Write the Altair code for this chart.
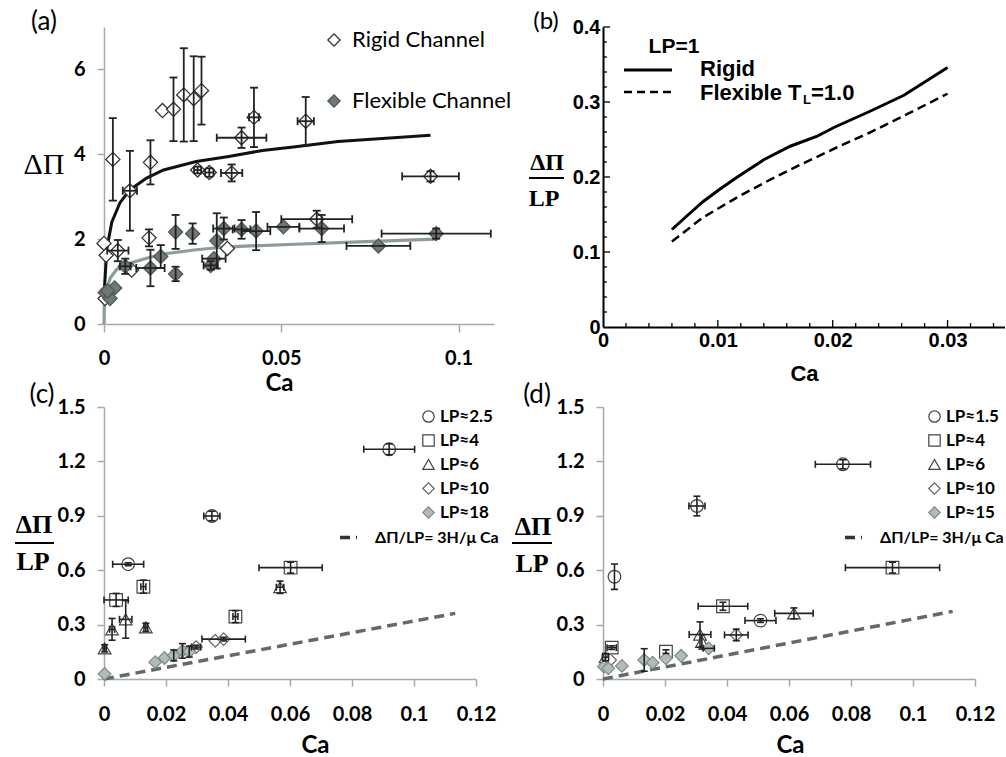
import altair as alt
import pandas as pd

FONT = "Lato"
SERIF = "Liberation Serif"
ARIAL = "Liberation Sans"
AXG = "#a3acab"

# ---------------- panel (a) data ----------------
a_rigid_ca = [0.0025, 0.0073, 0.0131, 0.0165, 0.0196, 0.0225, 0.0253, 0.0275, 0.0264, 0.0297, 0.0360, 0.0388,
              0.0423, 0.0569, 0.0921, 0.0600, 0.0348, 0.0127, 0.0039, 0.0078, 0.0000, 0.0006, 0.0003]
a_rigid_v = [3.88, 3.14, 3.81, 5.03, 5.06, 5.40, 5.31, 5.50, 3.63, 3.57, 3.56, 4.39,
             4.87, 4.78, 3.48, 2.47, 1.78, 2.03, 1.73, 1.27, 1.90, 1.62, 0.60]
a_rigid_dca = [0, 0.0020, 0, 0, 0, 0, 0, 0, 0.0010, 0.0012, 0.0030, 0.0070,
               0.0014, 0.0023, 0.0080, 0.0100, 0, 0, 0.0030, 0, 0, 0, 0]
a_rigid_dv = [0.97, 0.94, 0.52, 0, 0.75, 1.10, 1.00, 0.80, 0.08, 0.10, 0.20, 0.24,
              0.70, 0.57, 0.12, 0.20, 0, 0.20, 0.25, 0, 0, 0, 0]

a_flex_ca = [0.0003, 0.0017, 0.0030, 0.0010, 0.0060, 0.0131, 0.0160, 0.0202, 0.0202, 0.0250, 0.0301, 0.0310,
             0.0318, 0.0338, 0.0388, 0.0429, 0.0506, 0.0614, 0.0774, 0.0937]
a_flex_v = [0.74, 0.60, 0.85, 0.78, 1.36, 1.32, 1.59, 2.17, 1.18, 2.13, 1.38, 1.54,
            1.96, 2.25, 2.23, 2.19, 2.29, 2.25, 1.84, 2.13]
a_flex_dca = [0, 0, 0, 0, 0.0015, 0.0040, 0, 0, 0, 0, 0.0020, 0.0033,
              0, 0.0030, 0.0025, 0.0040, 0.0045, 0.0063, 0.0090, 0.0154]
a_flex_dv = [0, 0, 0, 0, 0.18, 0.43, 0.27, 0.40, 0.17, 0.24, 0.10, 0,
             0.65, 0.26, 0.22, 0.45, 0, 0.32, 0, 0.12]

a_rcurve_ca = [0.0001, 0.00036, 0.00084, 0.0022, 0.0045, 0.0073, 0.012, 0.0168, 0.026, 0.0352, 0.0447, 0.054, 0.066, 0.0921]
a_rcurve_v = [0.80, 1.17, 1.79, 2.40, 2.86, 3.16, 3.44, 3.63, 3.83, 3.95, 4.09, 4.18, 4.30, 4.45]
a_fcurve_ca = [0.0, 0.0001, 0.0006, 0.0018, 0.0036, 0.0073, 0.012, 0.0167, 0.026, 0.035, 0.054, 0.070, 0.0935]
a_fcurve_v = [0.0, 0.50, 0.80, 1.09, 1.29, 1.43, 1.55, 1.65, 1.75, 1.82, 1.88, 1.93, 2.00]
a_names = ["Rigid Channel", "Flexible Channel"]

# ---------------- panel (b) data ----------------
b_rigid_ca = [0.0060, 0.0073, 0.0087, 0.0101, 0.0117, 0.0140, 0.0163, 0.0186, 0.0201, 0.0233, 0.0262, 0.0300]
b_rigid_v = [0.130, 0.148, 0.167, 0.183, 0.200, 0.223, 0.241, 0.254, 0.266, 0.288, 0.309, 0.346]
b_flex_ca = [0.0060, 0.0087, 0.0117, 0.0145, 0.0174, 0.0203, 0.0232, 0.0261, 0.0300]
b_flex_v = [0.114, 0.146, 0.173, 0.196, 0.218, 0.239, 0.259, 0.281, 0.311]
b_xticks_major = [0.01, 0.02, 0.03]
b_xticks_minor = [0.002, 0.004, 0.006, 0.008, 0.012, 0.014, 0.016, 0.018, 0.022, 0.024, 0.026, 0.028, 0.032, 0.034]
b_yticks_major = [0.1, 0.2, 0.3, 0.4]
b_yticks_minor = [0.02, 0.04, 0.06, 0.08, 0.12, 0.14, 0.16, 0.18, 0.22, 0.24, 0.26, 0.28, 0.32, 0.34, 0.36, 0.38]

# ---------------- panel (c) data ----------------
c_names = ["LP≈2.5", "LP≈4", "LP≈6", "LP≈10", "LP≈18"]
c_s1_ca = [0.0920, 0.0348, 0.0078]
c_s1_v = [1.267, 0.899, 0.633]
c_s1_dca = [0.0082, 0.0026, 0.0050]
c_s1_dv = [0.030, 0.026, 0.008]
c_s2_ca = [0.0602, 0.0127, 0.0039, 0.0424]
c_s2_v = [0.614, 0.509, 0.436, 0.344]
c_s2_dca = [0.0102, 0.0008, 0.0039, 0.0008]
c_s2_dv = [0.030, 0.036, 0.036, 0.033]
c_s3_ca = [0.0568, 0.0070, 0.0135, 0.0026, 0.0002]
c_s3_v = [0.506, 0.329, 0.285, 0.274, 0.169]
c_s3_dca = [0.0012, 0.0020, 0.0006, 0.0008, 0.0005]
c_s3_dv = [0.034, 0.104, 0.023, 0.060, 0.020]
c_s4_ca = [0.0297, 0.0359, 0.0386]
c_s4_v = [0.176, 0.211, 0.220]
c_s4_dca = [0.0015, 0, 0.0070]
c_s4_dv = [0.010, 0, 0.010]
c_s5_ca = [0.0002, 0.0165, 0.0195, 0.0225, 0.0253, 0.0275]
c_s5_v = [0.028, 0.093, 0.116, 0.130, 0.155, 0.151]
c_s5_dca = [0, 0, 0, 0, 0, 0]
c_s5_dv = [0, 0, 0, 0.030, 0.040, 0.030]
c_line_ca = [0.0, 0.1133]
c_line_v = [0.0, 0.362]

# ---------------- panel (d) data ----------------
d_names = ["LP≈1.5", "LP≈4", "LP≈6", "LP≈10", "LP≈15"]
d_s1_ca = [0.0774, 0.0303, 0.0037, 0.0508]
d_s1_v = [1.184, 0.954, 0.564, 0.322]
d_s1_dca = [0.0089, 0.0026, 0, 0.0050]
d_s1_dv = [0.025, 0.054, 0.070, 0.010]
d_s2_ca = [0.0934, 0.0387, 0.0028, 0.0203]
d_s2_v = [0.614, 0.401, 0.173, 0.151]
d_s2_dca = [0.0152, 0.0080, 0.0015, 0]
d_s2_dv = [0.030, 0.022, 0.010, 0.010]
d_s3_ca = [0.0616, 0.0313, 0.0319, 0.0008]
d_s3_v = [0.362, 0.245, 0.205, 0.120]
d_s3_dca = [0.0062, 0.0035, 0, 0.0010]
d_s3_dv = [0.030, 0.070, 0.040, 0.020]
d_s4_ca = [0.0430, 0.0023]
d_s4_v = [0.243, 0.105]
d_s4_dca = [0.0038, 0]
d_s4_dv = [0.032, 0]
d_s5_ca = [0.0003, 0.0017, 0.0061, 0.0133, 0.0160, 0.0203, 0.0252, 0.0341]
d_s5_v = [0.068, 0.059, 0.072, 0.105, 0.090, 0.114, 0.128, 0.169]
d_s5_dca = [0, 0, 0, 0, 0, 0, 0, 0.0018]
d_s5_dv = [0, 0, 0, 0.062, 0, 0, 0, 0]
d_line_ca = [0.0, 0.1128]
d_line_v = [0.0, 0.373]

LINE_LABEL = "ΔΠ/LP= 3H/μ Ca"

one = pd.DataFrame({"k": [0]})


def make_df(name, ca, v, dca, dv):
    df = pd.DataFrame({"series": name, "ca": ca, "v": v, "dca": dca, "dv": dv})
    df["vlo"] = df["v"] - df["dv"]
    df["vhi"] = df["v"] + df["dv"]
    df["clo"] = df["ca"] - df["dca"]
    df["chi"] = df["ca"] + df["dca"]
    return df


def txt(s, x, y, size, font=FONT, weight="normal", align="center", baseline="middle"):
    return alt.Chart(one).mark_text(text=s, font=font, fontSize=size, fontWeight=weight, align=align,
                                    baseline=baseline, color="black").encode(x=alt.value(x), y=alt.value(y))


def hrule(x1, x2, y, w=2.0, color="black", dash=None):
    kw = dict(color=color, strokeWidth=w)
    if dash:
        kw["strokeDash"] = dash
    return alt.Chart(one).mark_rule(**kw).encode(x=alt.value(x1), x2=alt.value(x2), y=alt.value(y))


def err_layers(df, X, Y, color, w, cap):
    out = []
    vd = df[df["dv"] > 0]
    hd = df[df["dca"] > 0]
    if len(vd):
        b = alt.Chart(vd)
        out.append(b.mark_rule(color=color, strokeWidth=w).encode(x=X("ca"), y=Y("vlo"), y2="vhi:Q"))
        out.append(b.mark_tick(color=color, thickness=w, size=cap, orient="horizontal", opacity=1).encode(x=X("ca"), y=Y("vlo")))
        out.append(b.mark_tick(color=color, thickness=w, size=cap, orient="horizontal", opacity=1).encode(x=X("ca"), y=Y("vhi")))
    if len(hd):
        b = alt.Chart(hd)
        out.append(b.mark_rule(color=color, strokeWidth=w).encode(x=X("clo"), x2="chi:Q", y=Y("v")))
        out.append(b.mark_tick(color=color, thickness=w, size=cap, orient="vertical", opacity=1).encode(x=X("clo"), y=Y("v")))
        out.append(b.mark_tick(color=color, thickness=w, size=cap, orient="vertical", opacity=1).encode(x=X("chi"), y=Y("v")))
    return out


def grey_axis(values, size, pad, title=None, **kw):
    args = dict(values=values, format="~g", grid=False, domainColor=AXG, domainWidth=1.5, tickColor=AXG,
                tickWidth=1.5, tickSize=7, labelFont=FONT, labelFontSize=size, labelFontWeight="bold",
                labelColor="black", labelPadding=pad, labelFlush=False, labelOverlap=False)
    args.update(kw)
    if title is None:
        return alt.Axis(title=None, **args)
    return alt.Axis(title=title, **args)


# ================= panel (a) =================   plot origin at page (102, 27)
A_W, A_H = 390, 297
a_xs = alt.Scale(domain=[0, 0.11], nice=False)
a_ys = alt.Scale(domain=[0, 7], nice=False)
a_xaxis = grey_axis([0, 0.05, 0.1], 20, 16, title="Ca", tickSize=8, titleFont=FONT, titleFontSize=24,
                    titleFontWeight="bold", titleColor="black", titleX=175, titleY=59, titleBaseline="middle")
a_yaxis = grey_axis([0, 2, 4, 6], 20, 12)
aX = lambda f: alt.X(f + ":Q", scale=a_xs, axis=a_xaxis)
aY = lambda f: alt.Y(f + ":Q", scale=a_ys, axis=a_yaxis)

a_df = pd.concat([make_df(a_names[0], a_rigid_ca, a_rigid_v, a_rigid_dca, a_rigid_dv),
                  make_df(a_names[1], a_flex_ca, a_flex_v, a_flex_dca, a_flex_dv)])
a_leg = alt.Legend(orient="none", legendX=219, legendY=2, title=None, labelFont=FONT, labelFontSize=22,
                   labelColor="black", symbolSize=150, symbolStrokeWidth=1.3, rowPadding=39, labelOffset=7,
                   padding=0)
a_pts = alt.Chart(a_df).mark_point(filled=True, opacity=1, size=200, strokeWidth=1.3).encode(
    x=aX("ca"), y=aY("v"),
    shape=alt.Shape("series:N", scale=alt.Scale(domain=a_names, range=["diamond", "diamond"]), legend=a_leg),
    fill=alt.Fill("series:N", scale=alt.Scale(domain=a_names, range=["white", "#6f7777"]), legend=a_leg),
    stroke=alt.Stroke("series:N", scale=alt.Scale(domain=a_names, range=["#333333", "#4f5757"]), legend=a_leg),
)
a_rc = alt.Chart(pd.DataFrame({"ca": a_rcurve_ca, "v": a_rcurve_v})).mark_line(
    color="#111111", strokeWidth=3).encode(x=aX("ca"), y=aY("v"))
a_fc = alt.Chart(pd.DataFrame({"ca": a_fcurve_ca, "v": a_fcurve_v})).mark_line(
    color="#8d9b99", strokeWidth=3.2).encode(x=aX("ca"), y=aY("v"))
panel_a = alt.layer(
    a_fc, a_rc, a_pts, *err_layers(a_df, aX, aY, "#222222", 1.8, 8),
    txt("(a)", -60, -5, 26),
    txt("ΔΠ", -60, 138, 30, font=SERIF),
).properties(width=A_W, height=A_H)

# ================= panel (b) =================   plot origin at page (601, 27)
B_W, B_H = 402, 300
b_xs = alt.Scale(domain=[0, 0.035], nice=False)
b_ys = alt.Scale(domain=[0, 0.4], nice=False)
b_common = dict(format="~g", grid=False, ticks=False, tickSize=0, domainColor="black", domainWidth=2,
                labelFont=ARIAL, labelFontSize=20, labelFontWeight="bold", labelColor="black",
                labelPadding=3, labelFlush=False, labelOverlap=False)
b_xaxis = alt.Axis(values=[0, 0.01, 0.02, 0.03], title="Ca", titleFont=ARIAL, titleFontSize=22,
                   titleFontWeight="bold", titleColor="black", titleX=201, titleY=46, titleBaseline="middle",
                   **b_common)
b_yaxis = alt.Axis(values=[0, 0.1, 0.2, 0.3, 0.4], title=None, **b_common)
bX = lambda f: alt.X(f + ":Q", scale=b_xs, axis=b_xaxis)
bY = lambda f: alt.Y(f + ":Q", scale=b_ys, axis=b_yaxis)

b_l1 = alt.Chart(pd.DataFrame({"ca": b_rigid_ca, "v": b_rigid_v})).mark_line(
    color="black", strokeWidth=3).encode(x=bX("ca"), y=bY("v"))
b_l2 = alt.Chart(pd.DataFrame({"ca": b_flex_ca, "v": b_flex_v})).mark_line(
    color="black", strokeWidth=2.5, strokeDash=[9, 5]).encode(x=bX("ca"), y=bY("v"))


def xticks(vals, L):
    return alt.Chart(pd.DataFrame({"t": vals})).mark_rule(color="black", strokeWidth=1.3).encode(
        x=bX("t"), y=alt.value(B_H), y2=alt.value(B_H - L))


def yticks(vals, L):
    return alt.Chart(pd.DataFrame({"t": vals})).mark_rule(color="black", strokeWidth=1.3).encode(
        y=bY("t"), x=alt.value(0), x2=alt.value(L))


panel_b = alt.layer(
    b_l1, b_l2,
    xticks(b_xticks_major, 7), xticks(b_xticks_minor, 4),
    yticks(b_yticks_major, 7), yticks(b_yticks_minor, 4),
    txt("(b)", -57, -5, 24),
    txt("ΔΠ", -56, 136, 24, font=SERIF, weight="bold"),
    hrule(-74, -39, 151, 2),
    txt("LP", -59, 172, 24, font=SERIF, weight="bold"),
    txt("LP=1", 71, 20, 21, font=ARIAL, weight="bold"),
    hrule(21, 69, 43, 3),
    txt("Rigid", 97, 42, 22, font=ARIAL, weight="bold", align="left"),
    hrule(21, 69, 65, 2.5, dash=[8, 5]),
    txt("Flexible T", 97, 66, 22, font=ARIAL, weight="bold", align="left"),
    txt("L", 200, 73, 13, font=ARIAL, weight="bold", align="left"),
    txt("=1.0", 208, 66, 22, font=ARIAL, weight="bold", align="left"),
).properties(width=B_W, height=B_H)


# ================= panels (c) & (d) =================
def cd_panel(names, dfs, line_ca, line_v, W, H, sym_lx, dash_lx, dash_off, label, lab_pos, frac, title_x):
    xs = alt.Scale(domain=[0, 0.12001], nice=False)
    ys = alt.Scale(domain=[0, 1.5], nice=False)
    xaxis = grey_axis([0, 0.02, 0.04, 0.06, 0.08, 0.1, 0.12], 20, 18, title="Ca", titleFont=FONT,
                      titleFontSize=24, titleFontWeight="bold", titleColor="black", titleX=title_x,
                      titleY=66, titleBaseline="middle")
    yaxis = grey_axis([0, 0.3, 0.6, 0.9, 1.2, 1.5], 20, 12)
    X = lambda f: alt.X(f + ":Q", scale=xs, axis=xaxis)
    Y = lambda f: alt.Y(f + ":Q", scale=ys, axis=yaxis)
    df = pd.concat(dfs)
    leg = alt.Legend(orient="none", legendX=sym_lx, legendY=1, title=None, labelFont=FONT, labelFontSize=17,
                     labelFontWeight="bold", labelColor="black", symbolSize=130, symbolStrokeWidth=1.2,
                     rowPadding=6, labelOffset=3, padding=0)
    pts = alt.Chart(df).mark_point(filled=True, opacity=1, size=160, strokeWidth=1.2).encode(
        x=X("ca"), y=Y("v"),
        shape=alt.Shape("series:N", scale=alt.Scale(domain=names,
                        range=["circle", "square", "triangle-up", "diamond", "diamond"]), legend=leg),
        fill=alt.Fill("series:N", scale=alt.Scale(domain=names,
                      range=["white", "white", "white", "white", "#b1bcb9"]), legend=leg),
        stroke=alt.Stroke("series:N", scale=alt.Scale(domain=names,
                          range=["#444444", "#444444", "#444444", "#666666", "#7f8a87"]), legend=leg),
    )
    dleg = alt.Legend(orient="none", legendX=dash_lx, legendY=120, title=None, labelFont=FONT, labelFontSize=16,
                      labelFontWeight="bold", labelColor="black", symbolType="stroke", symbolSize=289,
                      symbolStrokeWidth=3.5, symbolStrokeColor="#333333", labelOffset=dash_off, padding=0)
    line = alt.Chart(pd.DataFrame({"ca": line_ca, "v": line_v, "name": LINE_LABEL})).mark_line(
        color="#616b69", strokeWidth=3.5).encode(
        x=X("ca"), y=Y("v"),
        strokeDash=alt.StrokeDash("name:N", scale=alt.Scale(domain=[LINE_LABEL], range=[[10, 6]]), legend=dleg),
    )
    (dx, dy), (bx1, bx2, by), (lx, ly) = frac
    return alt.layer(
        line, pts, *err_layers(df, X, Y, "#222222", 1.6, 7),
        txt(label, lab_pos[0], lab_pos[1], 26),
        txt("ΔΠ", dx, dy, 26, font=SERIF, weight="bold"),
        hrule(bx1, bx2, by, 2.2),
        txt("LP", lx, ly, 26, font=SERIF, weight="bold"),
    ).properties(width=W, height=H)


C_W, C_H = 372, 272   # plot origin at page (102, 407)
D_W, D_H = 372, 272   # plot origin at page (601, 407)
c_dfs = [make_df(c_names[0], c_s1_ca, c_s1_v, c_s1_dca, c_s1_dv),
         make_df(c_names[1], c_s2_ca, c_s2_v, c_s2_dca, c_s2_dv),
         make_df(c_names[2], c_s3_ca, c_s3_v, c_s3_dca, c_s3_dv),
         make_df(c_names[3], c_s4_ca, c_s4_v, c_s4_dca, c_s4_dv),
         make_df(c_names[4], c_s5_ca, c_s5_v, c_s5_dca, c_s5_dv)]
d_dfs = [make_df(d_names[0], d_s1_ca, d_s1_v, d_s1_dca, d_s1_dv),
         make_df(d_names[1], d_s2_ca, d_s2_v, d_s2_dca, d_s2_dv),
         make_df(d_names[2], d_s3_ca, d_s3_v, d_s3_dca, d_s3_dv),
         make_df(d_names[3], d_s4_ca, d_s4_v, d_s4_dca, d_s4_dv),
         make_df(d_names[4], d_s5_ca, d_s5_v, d_s5_dca, d_s5_dv)]

panel_c = cd_panel(c_names, c_dfs, c_line_ca, c_line_v, C_W, C_H, 316, 234, 16, "(c)", (-62, -12),
                   ((-70, 118), (-89, -50, 136), (-71, 155)), 211)
panel_d = cd_panel(d_names, d_dfs, d_line_ca, d_line_v, D_W, D_H, 323, 240, 16, "(d)", (-66, -12),
                   ((-70, 120), (-91, -51, 136), (-71, 157)), 187)

chart = alt.concat(
    panel_a, panel_b, panel_c, panel_d, columns=2, bounds="flush",
    spacing={"row": 80, "column": 109},
).resolve_scale(
    shape="independent", fill="independent", stroke="independent", strokeDash="independent",
).properties(
    padding={"left": 13, "top": 9, "right": 0, "bottom": 0},
    background="white",
).configure_view(strokeWidth=0)

chart.save("out.html", embed_options={"renderer": "svg", "actions": False})
